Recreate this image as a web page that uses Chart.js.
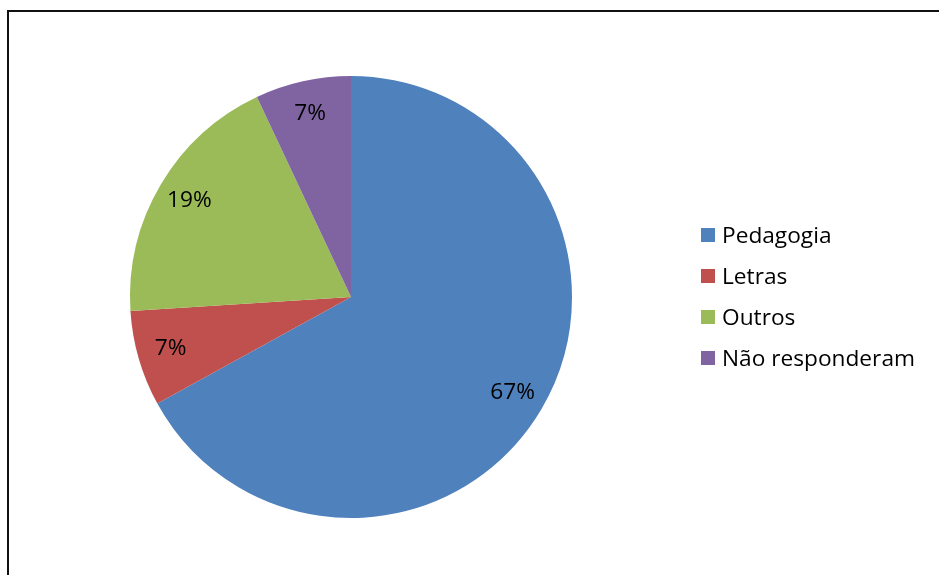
<!DOCTYPE html>
<html>
<head>
<meta charset="utf-8">
<script src="https://cdn.jsdelivr.net/npm/chart.js@4/dist/chart.umd.min.js"></script>
<style>
  html, body { margin: 0; padding: 0; background: #fff; }
  #wrap { position: relative; width: 939px; height: 575px; overflow: hidden; }
  #frame { position: absolute; left: 7px; top: 10px; width: 1000px; height: 1000px;
           border-left: 2px solid #111; border-top: 2px solid #111; box-sizing: border-box; }
  canvas { position: absolute; left: 0; top: 0; }
  #legend { position: absolute; left: 701px; top: 214px; font-family: "Open Sans", Lato, sans-serif;
            font-size: 21px; color: #000; }
  .item { height: 41px; display: flex; align-items: center; white-space: nowrap; }
  .sw { width: 14px; height: 14px; margin-right: 7px; margin-top: 1px; flex: none; }
  .tx { display: inline-block; transform-origin: left center; }
</style>
</head>
<body>
<div id="wrap">
  <div id="frame"></div>
  <canvas id="c" width="939" height="575"></canvas>
  <div id="legend"></div>
</div>
<script>
const categories = ["Pedagogia", "Letras", "Outros", "Não responderam"];
const values = [67, 7, 19, 7];
const colors = ["#4F81BD", "#C0504D", "#9BBB59", "#8064A2"];

const labelPlugin = {
  id: 'pctLabels',
  afterDatasetsDraw(chart) {
    const ctx = chart.ctx;
    const meta = chart.getDatasetMeta(0);
    const total = values.reduce((a, b) => a + b, 0);
    ctx.save();
    ctx.font = '21px "Open Sans", Lato, sans-serif';
    ctx.fillStyle = '#000';
    ctx.textAlign = 'center';
    ctx.textBaseline = 'middle';
    meta.data.forEach((arc, i) => {
      const p = arc.getProps(['x', 'y', 'startAngle', 'endAngle', 'outerRadius'], true);
      const mid = (p.startAngle + p.endAngle) / 2;
      const r = p.outerRadius * 0.85;
      const x = p.x + Math.cos(mid) * r;
      const y = p.y + Math.sin(mid) * r;
      ctx.save();
      ctx.translate(x, y);
      ctx.scale(1.08, 1);
      ctx.fillText(Math.round(values[i] / total * 100) + '%', 0, 0);
      ctx.restore();
    });
    ctx.restore();
  }
};

new Chart(document.getElementById('c'), {
  type: 'pie',
  data: {
    labels: categories,
    datasets: [{ data: values, backgroundColor: colors, borderWidth: 0 }]
  },
  options: {
    responsive: false,
    animation: false,
    layout: { padding: { left: 130, right: 367, top: 76, bottom: 57 } },
    plugins: { legend: { display: false }, tooltip: { enabled: false } }
  },
  plugins: [labelPlugin]
});

const lg = document.getElementById('legend');
categories.forEach((c, i) => {
  const d = document.createElement('div');
  d.className = 'item';
  d.innerHTML = '<span class="sw" style="background:' + colors[i] + '"></span><span class="tx">' + c + '</span>';
  lg.appendChild(d);
});
const txs = lg.querySelectorAll('.tx');
const w = txs[3].getBoundingClientRect().width;
const s = 193 / w;
txs.forEach(t => { t.style.transform = 'scaleX(' + s + ')'; });
</script>
</body>
</html>
